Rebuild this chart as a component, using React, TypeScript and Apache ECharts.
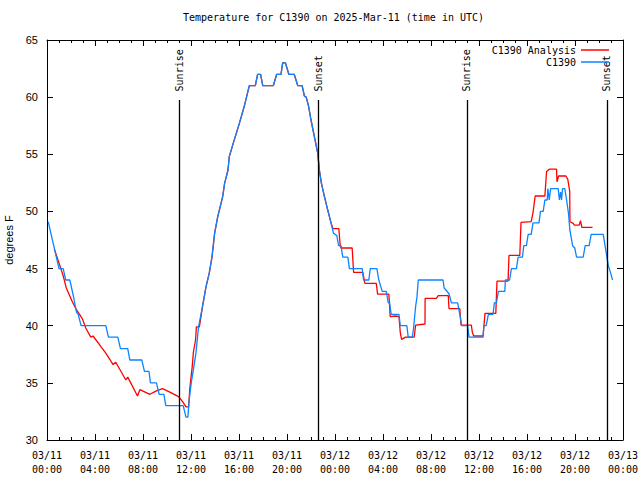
import React, { useEffect, useRef } from "react";
import * as echarts from "echarts";

// Time in hours since 2025-03-11 00:00 UTC
const obsHours = [
  0.1, 0.78, 1.0, 1.35, 1.56, 1.9, 2.2, 2.45, 2.6, 2.84, 4.9, 5.12, 5.9, 6.12, 6.73, 6.9, 7.9, 8.12, 8.5, 8.62,
  9.12, 9.35, 9.74, 9.9, 11.35, 11.58, 11.74, 11.85, 12.02, 12.19, 12.41, 12.63, 12.96, 13.25, 13.52, 13.75,
  13.97, 14.22, 14.64, 14.8, 15.08, 15.19, 15.53, 16.03, 16.44, 16.86, 17.36, 17.55, 17.8, 17.98, 18.86, 19.14,
  19.5, 19.64, 19.87, 20.15, 20.6, 20.9, 21.26, 21.45, 21.6, 21.8, 22.0, 22.29, 22.56, 22.7, 22.87, 23.12, 23.4,
  23.68, 23.87, 24.15, 24.3, 24.5, 24.65, 25.07, 25.2, 26.27, 26.38, 26.82, 26.94, 27.49, 27.65, 27.94, 28.27,
  28.44, 28.55, 28.68, 29.33, 29.44, 29.99, 30.1, 30.44, 30.55, 30.72, 30.83, 30.94, 33.0, 33.1, 33.5, 33.7,
  34.22, 34.4, 34.56, 35.05, 35.17, 36.34, 36.4, 36.6, 36.78, 37.17, 37.28, 37.45, 37.62, 38.15, 38.2, 38.55,
  38.7, 39.12, 39.26, 39.62, 39.73, 39.95, 40.1, 40.35, 40.5, 41.0, 41.12, 41.35, 41.49, 41.68, 41.74, 41.85,
  41.97, 42.6, 42.7, 42.8, 42.88, 42.96, 43.15, 43.3, 43.46, 43.57, 43.8, 43.98, 44.13, 44.68, 44.85, 45.18,
  45.35, 46.35, 46.52, 46.77, 46.97, 47.13,
];
const obsTemps = [
  49.1, 46.0, 45.0, 45.0, 44.0, 44.0, 42.6, 41.2, 41.0, 40.0, 40.0, 39.0, 39.0, 38.0, 38.0, 37.0, 37.0, 36.0, 36.0, 35.0,
  35.0, 34.0, 34.0, 33.0, 33.0, 32.0, 32.0, 33.5, 35.0, 36.1, 37.6, 39.9, 41.7, 43.4, 44.6, 46.0,
  48.1, 49.5, 51.3, 52.45, 53.6, 54.8, 56.0, 57.7, 59.2, 61.0, 61.0, 62.0, 62.0, 61.0, 61.0, 62.0,
  62.0, 63.0, 63.0, 62.0, 62.0, 61.0, 61.0, 60.1, 60.0, 59.2, 58.0, 56.5, 55.1, 53.6, 52.45, 51.3, 50.1,
  48.95, 48.1, 47.9, 47.0, 47.0, 46.0, 46.0, 45.0, 45.0, 44.0, 44.0, 45.0, 45.0, 44.0, 43.0, 43.0,
  42.0, 42.0, 41.0, 41.0, 40.0, 40.0, 39.0, 39.0, 39.8, 41.7, 42.5, 44.0, 44.0, 43.3, 42.8, 42.0,
  42.0, 41.0, 40.0, 40.0, 39.0, 39.0, 40.0, 40.0, 41.0, 41.0, 42.0, 42.0, 43.0, 43.0, 44.0, 44.0,
  45.0, 45.0, 46.0, 46.0, 47.0, 47.0, 48.0, 48.0, 49.0, 49.0, 50.0, 50.0, 51.0, 51.0, 52.0, 51.0,
  52.0, 52.0, 51.0, 51.7, 51.0, 52.0, 52.0, 51.0, 49.8, 48.4, 47.0, 46.8, 46.0, 46.0, 47.0, 47.0,
  48.0, 48.0, 46.9, 45.3, 44.6, 44.0,
];

const anaHours = [
  0.61, 1.0, 1.34, 1.61, 2.11, 2.45, 2.95, 3.23, 3.65, 3.84, 4.48, 4.9, 5.51, 5.73, 6.57, 6.73, 7.54, 7.74, 8.57,
  9.12, 9.63, 10.32, 10.96, 11.3, 11.58, 11.8, 11.9, 12.1, 12.2, 12.38, 12.45, 12.7, 12.96, 13.25, 13.52, 13.75,
  13.97, 14.22, 14.64, 14.8, 15.08, 15.19, 15.53, 16.03, 16.44, 16.86, 17.36, 17.55, 17.8, 17.98, 18.86, 19.14,
  19.5, 19.64, 19.87, 20.15, 20.6, 20.9, 21.26, 21.45, 21.6, 21.8, 22.0, 22.29, 22.56, 22.7, 22.87, 23.12, 23.4,
  23.68, 23.82, 24.32, 24.43, 24.5, 25.43, 25.55, 26.32, 26.49, 27.44, 27.55, 28.49, 28.6, 29.05, 29.33, 29.44,
  29.55, 29.88, 30.6, 30.72, 31.5, 31.51, 32.45, 32.6, 33.44, 33.5, 34.4, 34.5, 35.36, 35.45, 35.56, 36.34,
  36.5, 37.4, 37.5, 38.42, 38.5, 39.4, 39.5, 40.35, 40.5, 40.68, 41.49, 41.63, 41.85, 42.46, 42.5, 42.63,
  43.24, 43.4, 43.56, 43.58, 43.85, 43.95, 44.35, 44.46, 44.57, 45.46,
];
const anaTemps = [
  46.7, 45.5, 44.4, 43.3, 42.1, 41.4, 40.6, 39.8, 39.0, 39.1, 38.2, 37.6, 36.6, 36.8, 35.25, 35.5, 33.85, 34.4, 34.0,
  34.3, 34.5, 34.15, 33.8, 33.35, 32.9, 32.9, 34.5, 36.4, 37.7, 38.75, 39.9, 39.9, 41.7, 43.4, 44.6, 46.0,
  48.1, 49.5, 51.3, 52.45, 53.6, 54.8, 56.0, 57.7, 59.2, 61.0, 61.0, 62.0, 62.0, 61.0, 61.0, 62.0,
  62.0, 63.0, 63.0, 62.0, 62.0, 61.0, 61.0, 60.1, 60.0, 59.2, 58.0, 56.5, 55.1, 53.6, 52.45, 51.3, 50.1,
  48.95, 48.5, 48.5, 47.06, 46.8, 46.8, 44.67, 44.67, 43.7, 43.7, 42.77, 42.77, 40.8, 40.85, 40.8, 39.4,
  38.8, 39.0, 39.0, 40.06, 40.15, 42.4, 42.4, 42.63, 42.63, 41.5, 41.5, 40.06, 40.06, 39.4, 39.1, 39.1,
  41.08, 41.08, 43.9, 43.9, 46.15, 46.15, 49.04, 49.1, 49.9, 51.35, 51.35, 53.5, 53.7, 53.7, 52.6, 53.1,
  53.1, 52.8, 51.75, 49.1, 48.95, 48.8, 48.8, 49.2, 48.6, 48.6,
];

const eventNames = ["Sunrise", "Sunset", "Sunrise", "Sunset"];
const eventHours = [11.02, 22.62, 34.98, 46.66];
const eventLineTop = 59.75;
const eventLabelBase = 60.5;

const MONO = "DejaVu Sans Mono";
const SANS = "Liberation Sans";

function pad(n: number) {
  return n < 10 ? "0" + n : "" + n;
}

export default function App() {
  const ref = useRef<HTMLDivElement>(null);
  useEffect(() => {
    if (!ref.current) return;
    const chart = echarts.init(ref.current, undefined, { renderer: "svg" });
    const xCommon = {
      type: "value" as const,
      min: 0,
      max: 48,
      interval: 4,
      splitLine: { show: false },
      axisLine: { show: true, onZero: false, lineStyle: { color: "#000", width: 1 } },
      axisTick: { show: true, inside: true, length: 6, lineStyle: { color: "#000" } },
      minorTick: { show: true, splitNumber: 4, length: 3, lineStyle: { color: "#000" } },
      minorSplitLine: { show: false },
    };
    const yCommon = {
      type: "value" as const,
      min: 30,
      max: 65,
      interval: 5,
      splitLine: { show: false },
      axisLine: { show: true, onZero: false, lineStyle: { color: "#000", width: 1 } },
      axisTick: { show: true, inside: true, length: 6, lineStyle: { color: "#000" } },
    };
    chart.setOption({
      animation: false,
      backgroundColor: "#fff",
      title: {
        text: "Temperature for C1390 on 2025-Mar-11 (time in UTC)",
        left: 183,
        top: 12,
        padding: 0,
        textStyle: { fontFamily: MONO, fontSize: 10, fontWeight: "normal", color: "#000" },
      },
      legend: {
        data: ["C1390 Analysis", "C1390"],
        orient: "vertical",
        align: "right",
        right: 31,
        top: 44,
        padding: 0,
        icon: "rect",
        itemWidth: 28,
        itemHeight: 1.5,
        itemGap: 0,
        textStyle: { fontFamily: MONO, fontSize: 10, color: "#000", lineHeight: 12 },
      },
      grid: { left: 47, right: 17, top: 40, bottom: 40, outerBoundsMode: "none" },
      xAxis: [
        {
          ...xCommon,
          position: "bottom",
          axisLabel: {
            fontFamily: MONO,
            fontSize: 10,
            color: "#000",
            lineHeight: 14,
            margin: 8,
            formatter: (v: number) => {
              const d = 11 + Math.floor(v / 24);
              const hh = Math.round(v % 24);
              return `03/${d}\n${pad(hh)}:00`;
            },
          },
        },
        { ...xCommon, position: "top", axisLabel: { show: false } },
      ],
      yAxis: [
        {
          ...yCommon,
          position: "left",
          name: "degrees F",
          nameLocation: "middle",
          nameGap: 28,
          nameTextStyle: { fontFamily: SANS, fontSize: 11, color: "#000" },
          axisLabel: { fontFamily: SANS, fontSize: 11, color: "#000", margin: 9 },
        },
        { ...yCommon, position: "right", axisLabel: { show: false } },
      ],
      series: [
        {
          name: "C1390 Analysis",
          type: "line",
          data: anaHours.map((h, i) => [h, anaTemps[i]]),
          symbol: "none",
          lineStyle: { color: "#ff0000", width: 1.3 },
          itemStyle: { color: "#ff0000" },
        },
        {
          name: "C1390",
          type: "line",
          data: obsHours.map((h, i) => [h, obsTemps[i]]),
          symbol: "none",
          lineStyle: { color: "#0a84ff", width: 1.3 },
          itemStyle: { color: "#0a84ff" },
        },
        {
          name: "events",
          type: "scatter",
          data: eventHours.map((h, i) => ({ name: eventNames[i], value: [h, eventLabelBase] })),
          symbolSize: 1,
          itemStyle: { color: "rgba(0,0,0,0)", opacity: 1 },
          label: {
            show: true,
            position: "inside",
            rotate: 90,
            align: "left",
            verticalAlign: "middle",
            formatter: (p: any) => p.name,
            fontFamily: MONO,
            fontSize: 10,
            color: "#000",
            opacity: 1,
          },
          markLine: {
            silent: true,
            symbol: "none",
            label: { show: false },
            lineStyle: { color: "#000", width: 1.3, type: "solid", opacity: 1 },
            data: eventHours.map((h) => [{ coord: [h, 30] }, { coord: [h, eventLineTop] }]),
          },
          z: 1,
        },
      ],
    });
    return () => chart.dispose();
  }, []);
  return <div ref={ref} style={{ width: 640, height: 480, position: "absolute", left: 0, top: 0 }} />;
}
